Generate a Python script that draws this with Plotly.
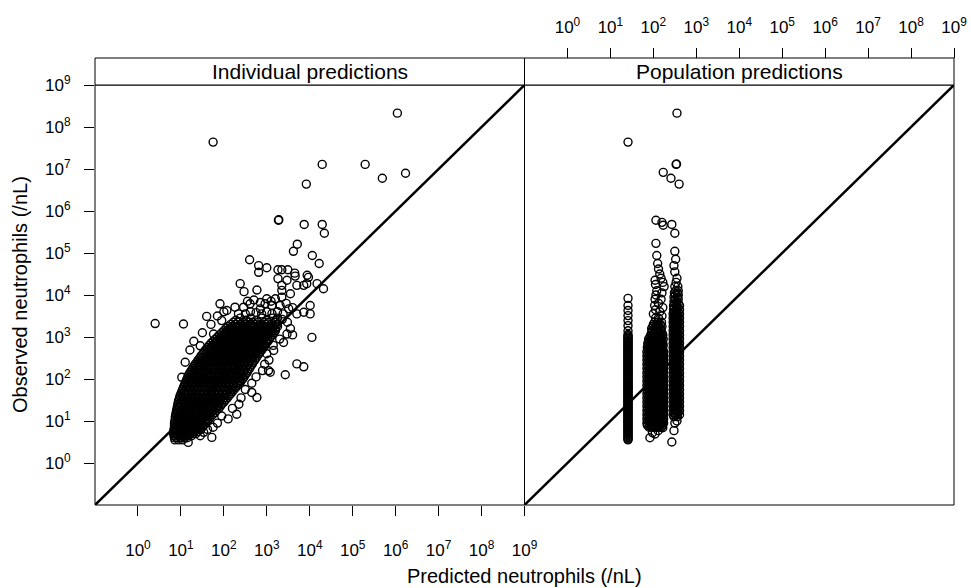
import plotly.graph_objects as go

# ---------------- data (log10 units) ----------------
axis_range_log = [-1, 9]
decades = [0, 1, 2, 3, 4, 5, 6, 7, 8, 9]
tick_labels = ["10<sup>%d</sup>" % d for d in decades]
panel_titles = ["Individual predictions", "Population predictions"]
x_title = "Predicted neutrophils (/nL)"
y_title = "Observed neutrophils (/nL)"

# Individual predictions: dense core, row by row (observed level -> predicted values)
ind_core_obs = [0.55, 0.65, 0.75, 0.85, 0.95, 1.05, 1.15, 1.25, 1.35, 1.45,
                1.55, 1.65, 1.75, 1.85, 1.95, 2.05, 2.15, 2.25, 2.35, 2.45,
                2.55, 2.65, 2.75, 2.85, 2.95, 3.05, 3.15, 3.25, 3.35, 3.45,
                0.60, 0.70, 0.80, 0.90, 1.00, 1.10, 1.20, 1.30, 1.40, 1.50,
                1.60, 1.70, 1.80, 1.90, 2.00, 2.10, 2.20, 2.30, 2.40, 2.50,
                2.60, 2.70, 2.80, 2.90, 3.00, 3.10, 3.20, 3.30, 3.40]
ind_core_pred = [
    [0.86, 0.95, 1.04],
    [0.84, 0.92, 1.00, 1.09, 1.18, 1.25],
    [0.83, 0.91, 0.99, 1.07, 1.15, 1.24, 1.32, 1.40],
    [0.85, 0.93, 1.01, 1.10, 1.18, 1.26, 1.34, 1.42, 1.50],
    [0.85, 0.94, 1.02, 1.11, 1.19, 1.27, 1.35, 1.43, 1.51, 1.58],
    [0.87, 0.95, 1.04, 1.12, 1.21, 1.29, 1.37, 1.45, 1.53, 1.60, 1.66],
    [0.88, 0.97, 1.05, 1.14, 1.22, 1.31, 1.39, 1.47, 1.56, 1.65, 1.74],
    [0.90, 0.99, 1.07, 1.16, 1.24, 1.33, 1.41, 1.50, 1.58, 1.67, 1.75, 1.83],
    [0.92, 1.01, 1.09, 1.18, 1.27, 1.35, 1.44, 1.52, 1.61, 1.69, 1.78, 1.86, 1.92],
    [0.94, 1.03, 1.12, 1.20, 1.29, 1.38, 1.46, 1.55, 1.64, 1.72, 1.81, 1.90, 2.00],
    [0.97, 1.06, 1.14, 1.23, 1.32, 1.41, 1.49, 1.58, 1.67, 1.75, 1.84, 1.93, 2.01, 2.08],
    [1.00, 1.09, 1.18, 1.26, 1.35, 1.44, 1.53, 1.61, 1.70, 1.79, 1.88, 1.97, 2.06, 2.16],
    [1.04, 1.13, 1.22, 1.30, 1.39, 1.48, 1.57, 1.65, 1.74, 1.83, 1.92, 2.01, 2.10, 2.18, 2.24],
    [1.08, 1.17, 1.26, 1.34, 1.43, 1.52, 1.61, 1.69, 1.78, 1.87, 1.96, 2.05, 2.14, 2.23, 2.32],
    [1.12, 1.21, 1.30, 1.38, 1.47, 1.56, 1.65, 1.73, 1.82, 1.91, 2.00, 2.09, 2.18, 2.27, 2.36, 2.40],
    [1.16, 1.25, 1.34, 1.43, 1.51, 1.60, 1.69, 1.78, 1.87, 1.95, 2.04, 2.13, 2.22, 2.31, 2.40, 2.47],
    [1.21, 1.30, 1.39, 1.48, 1.56, 1.65, 1.74, 1.83, 1.92, 2.00, 2.09, 2.18, 2.27, 2.36, 2.45, 2.54],
    [1.27, 1.36, 1.45, 1.53, 1.62, 1.71, 1.80, 1.89, 1.97, 2.06, 2.15, 2.24, 2.33, 2.42, 2.51, 2.60],
    [1.33, 1.42, 1.51, 1.59, 1.68, 1.77, 1.86, 1.95, 2.03, 2.12, 2.21, 2.30, 2.39, 2.48, 2.57, 2.66],
    [1.40, 1.49, 1.57, 1.66, 1.75, 1.84, 1.92, 2.01, 2.10, 2.19, 2.28, 2.36, 2.45, 2.54, 2.63, 2.72],
    [1.47, 1.56, 1.64, 1.73, 1.82, 1.91, 1.99, 2.08, 2.17, 2.26, 2.34, 2.43, 2.52, 2.61, 2.70, 2.78],
    [1.54, 1.63, 1.72, 1.80, 1.89, 1.98, 2.07, 2.15, 2.24, 2.33, 2.42, 2.50, 2.59, 2.68, 2.77, 2.85],
    [1.62, 1.71, 1.80, 1.88, 1.97, 2.06, 2.15, 2.23, 2.32, 2.41, 2.50, 2.58, 2.67, 2.76, 2.85, 2.92],
    [1.70, 1.79, 1.88, 1.96, 2.05, 2.14, 2.23, 2.31, 2.40, 2.49, 2.58, 2.66, 2.75, 2.84, 2.93, 2.99],
    [1.80, 1.89, 1.98, 2.06, 2.15, 2.24, 2.33, 2.41, 2.50, 2.59, 2.68, 2.76, 2.85, 2.94, 3.02, 3.06],
    [1.90, 1.99, 2.08, 2.16, 2.25, 2.34, 2.43, 2.51, 2.60, 2.69, 2.78, 2.86, 2.95, 3.04, 3.13],
    [2.00, 2.09, 2.18, 2.26, 2.35, 2.44, 2.53, 2.61, 2.70, 2.79, 2.88, 2.96, 3.05, 3.13, 3.20],
    [2.10, 2.19, 2.28, 2.36, 2.45, 2.54, 2.63, 2.71, 2.80, 2.89, 2.98, 3.06, 3.15, 3.25],
    [2.22, 2.33, 2.44, 2.58, 2.67, 2.80, 2.94, 3.05, 3.21],
    [2.38, 2.63, 2.88, 3.14],
    [0.85, 0.90, 0.99, 1.08, 1.15],
    [0.83, 0.88, 0.96, 1.04, 1.12, 1.20, 1.28, 1.35],
    [0.84, 0.89, 0.97, 1.05, 1.14, 1.22, 1.30, 1.38, 1.46],
    [0.85, 0.90, 0.98, 1.06, 1.15, 1.23, 1.31, 1.39, 1.47, 1.54],
    [0.86, 0.91, 0.99, 1.08, 1.16, 1.25, 1.33, 1.41, 1.49, 1.56, 1.62],
    [0.87, 0.92, 1.01, 1.09, 1.18, 1.26, 1.34, 1.42, 1.51, 1.59, 1.68],
    [0.89, 0.94, 1.03, 1.11, 1.20, 1.28, 1.37, 1.45, 1.54, 1.62, 1.71, 1.79],
    [0.91, 0.96, 1.05, 1.13, 1.22, 1.31, 1.39, 1.48, 1.56, 1.65, 1.73, 1.82, 1.88],
    [0.93, 0.98, 1.07, 1.16, 1.24, 1.33, 1.42, 1.50, 1.59, 1.68, 1.76, 1.85, 1.95],
    [0.95, 1.01, 1.10, 1.18, 1.27, 1.36, 1.45, 1.53, 1.62, 1.71, 1.79, 1.88, 1.97, 2.04],
    [0.98, 1.04, 1.13, 1.22, 1.31, 1.39, 1.48, 1.57, 1.66, 1.74, 1.83, 1.92, 2.01, 2.12],
    [1.02, 1.08, 1.17, 1.26, 1.35, 1.43, 1.52, 1.61, 1.70, 1.78, 1.87, 1.96, 2.05, 2.14, 2.20],
    [1.06, 1.12, 1.21, 1.30, 1.39, 1.47, 1.56, 1.65, 1.74, 1.82, 1.91, 2.00, 2.09, 2.18, 2.28],
    [1.10, 1.16, 1.25, 1.34, 1.43, 1.51, 1.60, 1.69, 1.78, 1.86, 1.95, 2.04, 2.13, 2.22, 2.31, 2.37],
    [1.14, 1.20, 1.29, 1.38, 1.47, 1.55, 1.64, 1.73, 1.82, 1.91, 1.99, 2.08, 2.17, 2.26, 2.35, 2.44],
    [1.18, 1.25, 1.34, 1.43, 1.52, 1.60, 1.69, 1.78, 1.87, 1.96, 2.04, 2.13, 2.22, 2.31, 2.40, 2.50],
    [1.24, 1.31, 1.40, 1.49, 1.58, 1.66, 1.75, 1.84, 1.93, 2.02, 2.10, 2.19, 2.28, 2.37, 2.46, 2.56],
    [1.30, 1.37, 1.46, 1.55, 1.64, 1.72, 1.81, 1.90, 1.99, 2.08, 2.16, 2.25, 2.34, 2.43, 2.52, 2.62],
    [1.37, 1.44, 1.53, 1.62, 1.71, 1.79, 1.88, 1.97, 2.06, 2.15, 2.23, 2.32, 2.41, 2.50, 2.59, 2.68],
    [1.44, 1.51, 1.60, 1.69, 1.78, 1.86, 1.95, 2.04, 2.13, 2.22, 2.30, 2.39, 2.48, 2.57, 2.66, 2.75],
    [1.51, 1.59, 1.68, 1.77, 1.86, 1.94, 2.03, 2.12, 2.21, 2.30, 2.38, 2.47, 2.56, 2.65, 2.74, 2.82],
    [1.58, 1.67, 1.76, 1.85, 1.94, 2.02, 2.11, 2.20, 2.29, 2.38, 2.46, 2.55, 2.64, 2.73, 2.82, 2.89],
    [1.66, 1.75, 1.84, 1.93, 2.02, 2.10, 2.19, 2.28, 2.37, 2.46, 2.54, 2.63, 2.72, 2.81, 2.90, 2.96],
    [1.75, 1.84, 1.93, 2.02, 2.11, 2.19, 2.28, 2.37, 2.46, 2.55, 2.63, 2.72, 2.81, 2.90, 2.98, 3.03],
    [1.85, 1.94, 2.03, 2.12, 2.21, 2.29, 2.38, 2.47, 2.56, 2.65, 2.73, 2.82, 2.91, 3.00, 3.09],
    [1.95, 2.04, 2.13, 2.22, 2.31, 2.39, 2.48, 2.57, 2.66, 2.75, 2.83, 2.92, 3.01, 3.10, 3.17],
    [2.05, 2.14, 2.23, 2.32, 2.41, 2.49, 2.58, 2.67, 2.76, 2.85, 2.93, 3.02, 3.11, 3.20],
    [2.16, 2.27, 2.38, 2.49, 2.61, 2.72, 2.84, 2.97, 3.10, 3.24],
    [2.28, 2.52, 2.76, 3.00, 3.22],
]

# Individual predictions: scattered points (predicted, observed)
ind_sparse_pred = [1.17, 1.53, 1.72, 1.95, 2.30, 2.65, 2.77, 3.08, 3.04, 3.43, 3.70, 3.86,
                   3.16, 3.39, 3.47, 4.05, 1.02, 1.21, 1.45, 1.91, 1.76, 2.19, 1.95, 1.06,
                   0.40, 1.60, 2.07, 1.91, 2.26, 2.34, 2.46, 2.61, 2.85, 2.96, 3.12, 3.31,
                   3.51, 3.70, 3.86, 4.01, 4.01, 3.00, 3.20, 3.35, 3.55, 3.70, 3.93, 4.17,
                   4.32, 2.38, 2.77, 2.47, 3.35, 3.47, 3.86, 2.60, 2.81, 2.81, 3.00, 3.26,
                   3.35, 3.49, 3.65, 3.66, 3.94, 3.97, 3.26, 3.35,
                   2.50, 2.62, 2.75, 2.88, 3.00, 3.12, 3.25, 3.38, 2.55, 2.70, 2.85, 3.10,
                   3.45, 3.60, 3.25, 3.36, 3.48, 3.55, 3.60, 3.30, 3.20,
                   3.05, 3.00, 3.15, 2.95, 2.90, 2.75, 2.65, 2.50, 2.40, 2.35, 2.20, 2.10,
                   1.85, 1.75, 1.62, 1.45, 1.10, 1.30, 1.50, 1.70, 1.85, 2.00,
                   3.27, 3.28, 3.87, 4.29, 4.34, 3.71, 3.62, 4.06, 4.22, 3.92, 4.29, 5.29,
                   5.69, 6.23, 1.75, 6.04]
ind_sparse_obs = [0.49, 0.73, 0.61, 1.12, 1.16, 1.68, 1.56, 2.16, 2.20, 2.10, 2.36, 2.29,
                  2.68, 2.87, 3.07, 2.99, 2.04, 2.69, 2.79, 2.91, 3.07, 3.19, 3.39, 3.31,
                  3.32, 3.49, 3.63, 3.79, 3.71, 3.55, 3.71, 3.79, 3.67, 3.79, 3.75, 3.75,
                  3.67, 3.55, 3.59, 3.75, 3.55, 3.91, 3.91, 3.95, 4.03, 4.23, 4.27, 4.27,
                  4.15, 4.27, 4.12, 4.08, 4.11, 4.35, 4.23, 4.84, 4.70, 4.54, 4.65, 4.60,
                  4.60, 4.60, 4.52, 4.45, 4.47, 4.42, 4.39, 4.23,
                  3.55, 3.60, 3.58, 3.55, 3.60, 3.56, 3.60, 3.55, 3.85, 3.88, 3.82, 3.85,
                  3.80, 3.70, 3.45, 3.42, 3.35, 3.20, 3.05, 2.95, 3.35,
                  2.45, 2.60, 2.80, 2.35, 2.20, 2.05, 1.90, 1.75, 1.55, 1.40, 1.30, 1.05,
                  0.95, 0.85, 0.80, 0.65, 2.40, 2.90, 3.10, 3.30, 3.50, 3.60,
                  5.78, 5.79, 5.68, 5.68, 5.47, 5.21, 5.04, 4.94, 4.75, 6.64, 7.11, 7.11,
                  6.78, 6.90, 7.64, 8.33]

# Population predictions: group A (one predicted value, many observations)
pop_a_pred = 1.41
pop_a_obs = [0.55, 0.57, 0.60, 0.62, 0.65, 0.67, 0.70, 0.72, 0.75, 0.77, 0.80, 0.82,
             0.85, 0.87, 0.90, 0.92, 0.95, 0.97, 1.00, 1.02, 1.05, 1.07, 1.10, 1.12,
             1.15, 1.17, 1.20, 1.22, 1.25, 1.27, 1.30, 1.32, 1.35, 1.37, 1.40, 1.42,
             1.45, 1.47, 1.50, 1.52, 1.55, 1.57, 1.60, 1.62, 1.65, 1.67, 1.70, 1.72,
             1.75, 1.77, 1.80, 1.82, 1.85, 1.87, 1.90, 1.92, 1.95, 1.97, 2.00, 2.02,
             2.05, 2.07, 2.10, 2.12, 2.15, 2.17, 2.20, 2.22, 2.25, 2.27, 2.30, 2.32,
             2.35, 2.37, 2.40, 2.42, 2.45, 2.47, 2.50, 2.52, 2.55, 2.57, 2.60, 2.62,
             2.65, 2.67, 2.70, 2.72, 2.75, 2.77, 2.80, 2.82, 2.85, 2.87, 2.90, 2.92,
             2.95, 2.97, 3.00, 3.03, 3.06, 3.15, 3.27, 3.39, 3.51, 3.63, 3.75, 3.92,
             7.64]

# Population predictions: group B, row by row
pop_b_obs = [0.85, 0.90, 0.95, 1.00, 1.05, 1.10, 1.15, 1.20, 1.25, 1.30, 1.35, 1.40,
             1.45, 1.50, 1.55, 1.60, 1.65, 1.70, 1.75, 1.80, 1.85, 1.90, 1.95, 2.00,
             2.05, 2.10, 2.15, 2.20, 2.25, 2.30, 2.35, 2.40, 2.45, 2.50, 2.55, 2.60,
             2.65, 2.70, 2.75, 2.80, 2.85, 2.90, 2.95, 3.00, 3.05, 3.10, 3.15, 3.20,
             3.25, 3.30, 3.35]
pop_b_pred = [
    [1.90, 1.96, 2.02, 2.08, 2.14, 2.19],
    [1.86, 1.91, 1.96, 2.01, 2.06, 2.11, 2.16, 2.21],
    [1.85, 1.90, 1.95, 2.00, 2.05, 2.10, 2.15, 2.20, 2.24],
    [1.87, 1.92, 1.97, 2.02, 2.07, 2.12, 2.17, 2.22],
    [1.85, 1.90, 1.95, 2.00, 2.05, 2.10, 2.15, 2.20, 2.24],
    [1.87, 1.92, 1.97, 2.02, 2.07, 2.12, 2.17, 2.22],
    [1.85, 1.90, 1.95, 2.00, 2.05, 2.10, 2.15, 2.20, 2.24],
    [1.87, 1.92, 1.97, 2.02, 2.07, 2.12, 2.17, 2.22],
    [1.85, 1.90, 1.95, 2.00, 2.05, 2.10, 2.15, 2.20, 2.24],
    [1.87, 1.92, 1.97, 2.02, 2.07, 2.12, 2.17, 2.22],
    [1.85, 1.90, 1.95, 2.00, 2.05, 2.10, 2.15, 2.20, 2.24],
    [1.87, 1.92, 1.97, 2.02, 2.07, 2.12, 2.17, 2.22],
    [1.85, 1.90, 1.95, 2.00, 2.05, 2.10, 2.15, 2.20, 2.24],
    [1.87, 1.92, 1.97, 2.02, 2.07, 2.12, 2.17, 2.22],
    [1.85, 1.90, 1.95, 2.00, 2.05, 2.10, 2.15, 2.20, 2.24],
    [1.87, 1.92, 1.97, 2.02, 2.07, 2.12, 2.17, 2.22],
    [1.85, 1.90, 1.95, 2.00, 2.05, 2.10, 2.15, 2.20, 2.24],
    [1.87, 1.92, 1.97, 2.02, 2.07, 2.12, 2.17, 2.22],
    [1.85, 1.90, 1.95, 2.00, 2.05, 2.10, 2.15, 2.20, 2.24],
    [1.87, 1.92, 1.97, 2.02, 2.07, 2.12, 2.17, 2.22],
    [1.85, 1.90, 1.95, 2.00, 2.05, 2.10, 2.15, 2.20, 2.24],
    [1.87, 1.92, 1.97, 2.02, 2.07, 2.12, 2.17, 2.22],
    [1.85, 1.90, 1.95, 2.00, 2.05, 2.10, 2.15, 2.20, 2.24],
    [1.87, 1.92, 1.97, 2.02, 2.07, 2.12, 2.17, 2.22],
    [1.85, 1.90, 1.95, 2.00, 2.05, 2.10, 2.15, 2.20, 2.24],
    [1.87, 1.92, 1.97, 2.02, 2.07, 2.12, 2.17, 2.22],
    [1.85, 1.90, 1.95, 2.00, 2.05, 2.10, 2.15, 2.20, 2.24],
    [1.87, 1.92, 1.97, 2.02, 2.07, 2.12, 2.17, 2.22],
    [1.85, 1.90, 1.95, 2.00, 2.05, 2.10, 2.15, 2.20, 2.24],
    [1.87, 1.92, 1.97, 2.02, 2.07, 2.12, 2.17, 2.22],
    [1.85, 1.90, 1.95, 2.00, 2.05, 2.10, 2.15, 2.20, 2.24],
    [1.87, 1.92, 1.97, 2.02, 2.07, 2.12, 2.17, 2.22],
    [1.85, 1.90, 1.95, 2.00, 2.05, 2.10, 2.15, 2.20, 2.24],
    [1.87, 1.92, 1.97, 2.02, 2.07, 2.12, 2.17, 2.22],
    [1.85, 1.90, 1.95, 2.00, 2.05, 2.10, 2.15, 2.20, 2.24],
    [1.87, 1.92, 1.97, 2.02, 2.07, 2.12, 2.17, 2.22],
    [1.85, 1.90, 1.95, 2.00, 2.05, 2.10, 2.15, 2.20, 2.24],
    [1.87, 1.92, 1.97, 2.02, 2.07, 2.12, 2.17, 2.22],
    [1.86, 1.91, 1.96, 2.01, 2.06, 2.11, 2.16, 2.21],
    [1.88, 1.93, 1.98, 2.03, 2.08, 2.13, 2.18, 2.23],
    [1.87, 1.92, 1.97, 2.02, 2.07, 2.12, 2.17, 2.22],
    [1.90, 1.96, 2.02, 2.08, 2.14, 2.20],
    [1.89, 1.95, 2.01, 2.07, 2.13, 2.19, 2.23],
    [1.92, 1.98, 2.04, 2.10, 2.16, 2.21],
    [1.94, 2.00, 2.06, 2.12, 2.18, 2.22],
    [1.96, 2.02, 2.08, 2.14, 2.20],
    [1.97, 2.04, 2.11, 2.18],
    [1.96, 2.03, 2.10, 2.17],
    [1.99, 2.06, 2.13, 2.20],
    [2.00, 2.08, 2.16],
    [2.03, 2.11, 2.19],
]
pop_b_sparse_pred = [1.92, 2.04, 2.11, 2.22, 1.98, 2.05, 2.12, 2.20, 2.00, 2.15, 2.05, 2.22,
                     2.03, 2.12, 2.04, 2.18, 2.06, 2.20, 2.08, 2.25, 2.05, 2.22, 2.04, 2.18,
                     2.15, 2.12, 2.10, 2.08, 2.06, 2.06, 2.20, 2.23, 2.23]
pop_b_sparse_obs = [0.60, 0.69, 0.77, 0.84, 0.72, 3.45, 3.45, 3.50, 3.55, 3.60, 3.65, 3.70,
                    3.75, 3.80, 3.90, 3.90, 4.00, 4.05, 4.10, 4.20, 4.25, 4.30, 4.35, 4.40,
                    4.50, 4.62, 4.75, 4.94, 5.23, 5.78, 5.73, 5.66, 6.92]

# Population predictions: group C, row by row
pop_c_obs = [1.10, 1.15, 1.20, 1.25, 1.30, 1.35, 1.40, 1.45, 1.50, 1.55, 1.60, 1.65,
             1.70, 1.75, 1.80, 1.85, 1.90, 1.95, 2.00, 2.05, 2.10, 2.15, 2.20, 2.25,
             2.30, 2.35, 2.40, 2.45, 2.50, 2.55, 2.60, 2.65, 2.70, 2.75, 2.80, 2.85,
             2.90, 2.95, 3.00, 3.05, 3.10, 3.15, 3.20, 3.25, 3.30, 3.35, 3.40, 3.45,
             3.50, 3.55, 3.60, 3.65, 3.70, 3.75, 3.80, 3.85, 3.90, 3.95, 4.00, 4.05,
             4.10, 4.20, 4.30, 4.40]
pop_c_pred = [
    [2.48, 2.56], [2.46, 2.51, 2.56, 2.61], [2.48, 2.53, 2.58], [2.46, 2.51, 2.56, 2.61],
    [2.48, 2.53, 2.58], [2.46, 2.51, 2.56, 2.61], [2.48, 2.53, 2.58], [2.46, 2.51, 2.56, 2.61],
    [2.48, 2.53, 2.58], [2.46, 2.51, 2.56, 2.61], [2.48, 2.53, 2.58], [2.46, 2.51, 2.56, 2.61],
    [2.48, 2.53, 2.58], [2.46, 2.51, 2.56, 2.61], [2.48, 2.53, 2.58], [2.46, 2.51, 2.56, 2.61],
    [2.48, 2.53, 2.58], [2.46, 2.51, 2.56, 2.61], [2.48, 2.53, 2.58], [2.46, 2.51, 2.56, 2.61],
    [2.48, 2.53, 2.58], [2.46, 2.51, 2.56, 2.61], [2.48, 2.53, 2.58], [2.46, 2.51, 2.56, 2.61],
    [2.48, 2.53, 2.58], [2.46, 2.51, 2.56, 2.61], [2.48, 2.53, 2.58], [2.46, 2.51, 2.56, 2.61],
    [2.48, 2.53, 2.58], [2.46, 2.51, 2.56, 2.61], [2.48, 2.53, 2.58], [2.46, 2.51, 2.56, 2.61],
    [2.48, 2.53, 2.58], [2.46, 2.51, 2.56, 2.61], [2.48, 2.53, 2.58], [2.46, 2.51, 2.56, 2.61],
    [2.48, 2.53, 2.58], [2.46, 2.51, 2.56, 2.61], [2.48, 2.53, 2.58], [2.46, 2.51, 2.56, 2.61],
    [2.48, 2.53, 2.58], [2.46, 2.51, 2.56, 2.61], [2.48, 2.53, 2.58], [2.46, 2.51, 2.56, 2.61],
    [2.48, 2.53, 2.58], [2.46, 2.51, 2.56, 2.61], [2.48, 2.53, 2.58], [2.46, 2.51, 2.56, 2.61],
    [2.48, 2.53, 2.58], [2.46, 2.51, 2.56, 2.61], [2.48, 2.53, 2.58], [2.47, 2.54, 2.61],
    [2.49, 2.57], [2.47, 2.54, 2.61], [2.50, 2.58], [2.48, 2.55],
    [2.50, 2.58], [2.48, 2.56], [2.51, 2.58], [2.49, 2.56],
    [2.52, 2.58], [2.50, 2.57], [2.53], [2.55],
]
pop_c_sparse_pred = [2.50, 2.48, 2.52, 2.50, 2.50, 2.43, 2.41, 2.60, 2.53, 2.54, 2.55,
                     2.50, 2.48, 2.43, 2.55]
pop_c_sparse_obs = [4.55, 4.70, 4.85, 5.04, 5.47, 5.68, 6.78, 6.64, 7.11, 7.12, 8.33,
                    0.95, 0.77, 0.50, 1.00]

# ---------------- assemble ----------------
ind_x, ind_y = [], []
for obs, preds in zip(ind_core_obs, ind_core_pred):
    for p in preds:
        ind_x.append(p)
        ind_y.append(obs)
ind_x += ind_sparse_pred
ind_y += ind_sparse_obs

pop_x, pop_y = [], []
for o in pop_a_obs:
    pop_x.append(pop_a_pred)
    pop_y.append(o)
for obs, preds in zip(pop_b_obs, pop_b_pred):
    for p in preds:
        pop_x.append(p)
        pop_y.append(obs)
pop_x += pop_b_sparse_pred
pop_y += pop_b_sparse_obs
for obs, preds in zip(pop_c_obs, pop_c_pred):
    for p in preds:
        pop_x.append(p)
        pop_y.append(obs)
pop_x += pop_c_sparse_pred
pop_y += pop_c_sparse_obs


def lin(v):
    return [10.0 ** a for a in v]


FONT = "Liberation Sans, Arial, Helvetica, sans-serif"
marker = dict(symbol="circle-open", size=8, color="black",
              line=dict(width=1.4, color="black"))
ident = lin(axis_range_log)

fig = go.Figure()
fig.add_trace(go.Scatter(x=lin(ind_x), y=lin(ind_y), mode="markers", marker=marker,
                         xaxis="x", yaxis="y", showlegend=False, hoverinfo="skip"))
fig.add_trace(go.Scatter(x=ident, y=ident, mode="lines", line=dict(color="black", width=2.5),
                         xaxis="x", yaxis="y", showlegend=False, hoverinfo="skip"))
fig.add_trace(go.Scatter(x=lin(pop_x), y=lin(pop_y), mode="markers", marker=marker,
                         xaxis="x2", yaxis="y2", showlegend=False, hoverinfo="skip"))
fig.add_trace(go.Scatter(x=ident, y=ident, mode="lines", line=dict(color="black", width=2.5),
                         xaxis="x2", yaxis="y2", showlegend=False, hoverinfo="skip"))

W, H = 971, 588
ML, MR, MT, MB = 95, 17, 58, 83
plot_h = H - MT - MB
plot_w = W - ML - MR
panel_top_px = 85
ydom_top = (H - MB - panel_top_px) / plot_h

tickvals = lin(decades)
tickfont = dict(family=FONT, size=17, color="black")
common = dict(type="log", range=axis_range_log, showgrid=False, zeroline=False,
              showline=False, tickwidth=1, tickcolor="black", ticklen=10,
              tickvals=tickvals, ticktext=tick_labels, tickfont=tickfont)

fig.update_layout(
    width=W, height=H,
    margin=dict(l=ML, r=MR, t=MT, b=MB, pad=0, autoexpand=False),
    paper_bgcolor="white", plot_bgcolor="white",
    font=dict(family=FONT, color="black"),
    xaxis=dict(domain=[0, 0.5], anchor="y", side="bottom", ticks="outside",
               ticklabelstandoff=20, **common),
    yaxis=dict(domain=[0, ydom_top], anchor="x", ticks="outside",
               ticklabelstandoff=10, **common),
    xaxis2=dict(domain=[0.5, 1], anchor="free", position=1, side="top", ticks="outside",
                ticklabelstandoff=8, **common),
    yaxis2=dict(domain=[0, ydom_top], anchor="x2", ticks="", showticklabels=False,
                **{k: v for k, v in common.items() if k not in ("tickvals", "ticktext")}),
)

shapes = []
annotations = []
for i, title in enumerate(panel_titles):
    x0, x1 = i * 0.5, (i + 1) * 0.5
    # panel border
    shapes.append(dict(type="rect", xref="paper", yref="paper", x0=x0, x1=x1,
                       y0=0, y1=ydom_top, line=dict(color="black", width=1), layer="above"))
    # strip
    shapes.append(dict(type="rect", xref="paper", yref="paper", x0=x0, x1=x1,
                       y0=ydom_top, y1=1, line=dict(color="black", width=1),
                       fillcolor="white", layer="above"))
    annotations.append(dict(text=title, xref="paper", yref="paper", x=(x0 + x1) / 2,
                            y=(ydom_top + 1) / 2, xanchor="center", yanchor="middle",
                            showarrow=False, font=dict(family=FONT, size=21, color="black")))

annotations.append(dict(text=x_title, xref="paper", yref="paper", x=0.5,
                        y=(H - MB - 576) / plot_h, xanchor="center", yanchor="middle",
                        showarrow=False, font=dict(family=FONT, size=20, color="black")))
annotations.append(dict(text=y_title, xref="paper", yref="paper",
                        x=(20 - ML) / plot_w, y=(H - MB - 295) / plot_h,
                        xanchor="center", yanchor="middle", textangle=-90,
                        showarrow=False, font=dict(family=FONT, size=20, color="black")))
fig.update_layout(shapes=shapes, annotations=annotations)

fig.write_html("out.html")
